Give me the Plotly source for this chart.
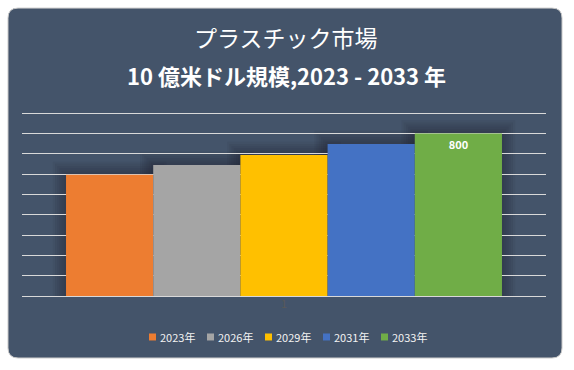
import plotly.graph_objects as go

years = ["2023年", "2026年", "2029年", "2031年", "2033年"]
values = [596, 645, 694, 748, 800]
labels = ["", "", "", "", "<b>800</b>"]
colors = ["#ED7D31", "#A5A5A5", "#FFC000", "#4472C4", "#70AD47"]
category = ["1"]
grid_vals = [0, 100, 200, 300, 400, 500, 600, 700, 800, 900]

W, H = 574, 370
YMAX = 920
base_px, top_px = 296, 113           # pixel rows of 0 and 900
ph = (base_px - top_px) * YMAX / 900
L, R, B = 22, 28, H - base_px
T = H - B - ph
pw = W - L - R
BARGAP = 0.168

def px(x):
    return (x - L) / pw

def py(y):
    return (H - B - y) / ph

fig = go.Figure()
for yr, v, lab, c in zip(years, values, labels, colors):
    fig.add_trace(go.Bar(
        x=category, y=[v], name=yr, marker=dict(color=c, line=dict(width=0)),
        text=[lab], textposition="inside", insidetextanchor="end",
        textfont=dict(color="white", size=11, family="Noto Sans CJK JP"),
        hoverinfo="skip", showlegend=False,
    ))

# rounded background panel
x0, y0, x1, y1, r = 8, 8, 562, 358, 10
path = (f"M {px(x0+r)},{py(y0)} L {px(x1-r)},{py(y0)} "
        f"Q {px(x1)},{py(y0)} {px(x1)},{py(y0+r)} L {px(x1)},{py(y1-r)} "
        f"Q {px(x1)},{py(y1)} {px(x1-r)},{py(y1)} L {px(x0+r)},{py(y1)} "
        f"Q {px(x0)},{py(y1)} {px(x0)},{py(y1-r)} L {px(x0)},{py(y0+r)} "
        f"Q {px(x0)},{py(y0)} {px(x0+r)},{py(y0)} Z")
shapes = [dict(type="path", path=path, xref="paper", yref="paper",
               fillcolor="#44546A", line=dict(color="#C8C8C8", width=1), layer="below")]

# soft shadow behind bars (derived from bar values)
n = len(values)
bw = (1 - BARGAP) / n
ux = 1 / pw           # x data units per pixel
uy = YMAX / ph        # y data units per pixel
for i, v in enumerate(values):
    bx0 = -0.5 + BARGAP / 2 + i * bw
    for k in range(1, 7):
        e = k * 2.2
        shapes.append(dict(type="rect", xref="x", yref="y", layer="below",
                           x0=bx0 - e * ux, x1=bx0 + bw + e * ux,
                           y0=0, y1=v + e * uy,
                           fillcolor="rgba(25,32,45,0.07)", line=dict(width=0)))

annotations = [
    dict(text="プラスチック市場", xref="paper", yref="paper", x=px(286), y=py(37),
         xanchor="center", yanchor="middle", showarrow=False,
         font=dict(size=23, color="white", family="Noto Sans CJK JP")),
    dict(text="<b>10 億米ドル規模,2023 - 2033 年</b>", xref="paper", yref="paper",
         x=px(286), y=py(75), xanchor="center", yanchor="middle", showarrow=False,
         font=dict(size=22, color="white", family="Noto Sans CJK JP")),
]

# compact legend (Excel-like)
leg_x0, leg_step, leg_y, sq = 149, 58, 337, 7
for i, (yr, c) in enumerate(zip(years, colors)):
    lx = leg_x0 + i * leg_step
    shapes.append(dict(type="rect", xref="paper", yref="paper",
                       x0=px(lx), x1=px(lx + sq), y0=py(leg_y - sq / 2), y1=py(leg_y + sq / 2),
                       fillcolor=c, line=dict(width=0)))
    annotations.append(dict(text=yr, xref="paper", yref="paper", x=px(lx + sq + 2), y=py(leg_y),
                            xanchor="left", yanchor="middle", showarrow=False,
                            font=dict(size=11, color="#F2F2F2", family="Noto Sans CJK JP")))

fig.update_layout(
    width=W, height=H,
    margin=dict(l=L, r=R, t=T, b=B),
    paper_bgcolor="white", plot_bgcolor="rgba(0,0,0,0)",
    barmode="group", bargap=BARGAP, bargroupgap=0,
    shapes=shapes, annotations=annotations, showlegend=False,
    yaxis=dict(range=[0, YMAX], tickvals=grid_vals,
               showticklabels=False, showgrid=True,
               gridcolor="#D9D9D9", gridwidth=1, zeroline=True, zerolinecolor="#D9D9D9",
               zerolinewidth=1, fixedrange=True),
    xaxis=dict(range=[-0.5, 0.5], showgrid=False,
               tickfont=dict(color="#595959", size=11, family="Noto Sans CJK JP"),
               ticks="", showline=False, fixedrange=True),
    font=dict(family="Noto Sans CJK JP"),
)

fig.write_html("out.html", config={"displayModeBar": False},
               post_script="document.body.style.margin='0';")
